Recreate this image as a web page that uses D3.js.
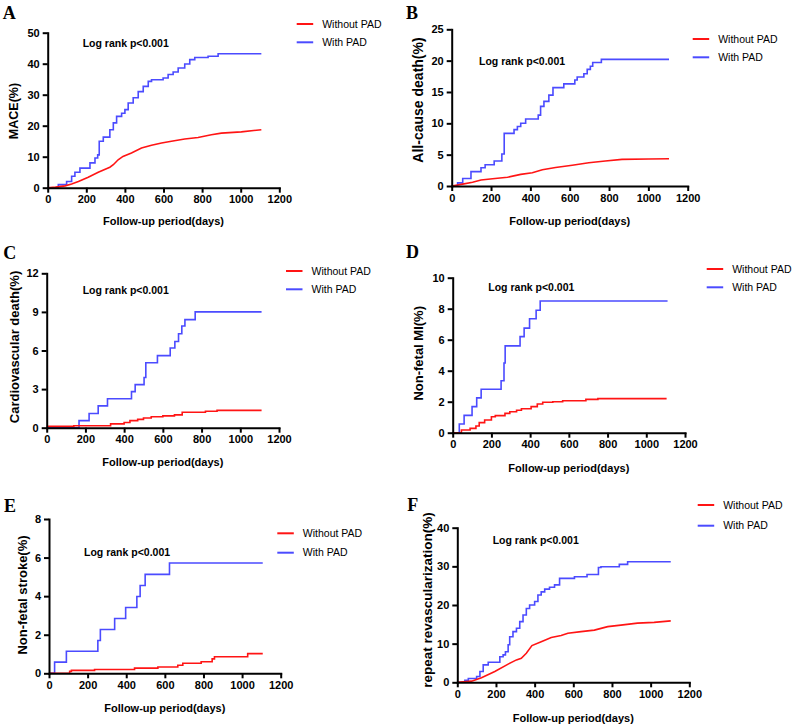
<!DOCTYPE html>
<html>
<head>
<meta charset="utf-8">
<script src="https://cdn.jsdelivr.net/npm/d3@7"></script>
<style>
body { margin: 0; background: #fff; }
svg { display: block; font-family: "Liberation Sans", Arial, sans-serif; }
</style>
</head>
<body>
<div id="chart"></div>
<script>
// Data (days, cumulative %)
var xTicks = [0, 200, 400, 600, 800, 1000, 1200];
var seriesNames = ['Without PAD', 'With PAD'];
var pLabel = 'Log rank p<0.001';
var xTitle = 'Follow-up period(days)';

var mace_without = [[0,0],[40,0.2],[90,0.6],[124,1.2],[159,2],[210,3.4],[262,5],[322,6.6],[340,7.4],[365,9],[390,10.1],[434,11.2],[486,12.8],[538,13.7],[590,14.4],[641,15],[710,15.7],[779,16.2],[848,17.1],[900,17.6],[1003,18],[1107,18.7]];
var mace_with = [[0,0],[55,1],[98,2],[124,3.7],[141,5],[167,6.3],[219,8],[245,9.6],[259,10.6],[267,15],[288,16.3],[322,18.7],[340,20.9],[357,23],[383,24],[400,25.2],[417,27.3],[443,29],[469,31],[495,32.7],[521,34.3],[538,34.8],[598,35.4],[624,36.5],[650,37.3],[676,38.6],[710,39.9],[736,41.3],[762,42],[831,42.4],[883,43.2],[1107,43.2]];

var death_without = [[0,0],[56,0.3],[106,0.6],[149,0.95],[208,1.16],[284,1.4],[351,1.85],[410,2.1],[461,2.6],[528,2.95],[613,3.3],[697,3.7],[781,4.0],[866,4.25],[1001,4.3],[1105,4.35]];
var death_with = [[0,0],[30,0.5],[56,1.2],[98,2.3],[149,2.9],[170,3.4],[216,4],[255,5.1],[267,8.4],[317,9],[334,9.5],[351,10],[376,10.7],[440,11.3],[452,12.7],[469,13.5],[494,14.5],[515,15.7],[570,16.3],[626,16.9],[638,17.4],[672,17.9],[689,18.6],[705,19.1],[717,19.7],[761,20.2],[1105,20.2]];

var cv_without = [[0,0.1],[140,0.15],[330,0.3],[400,0.4],[430,0.55],[470,0.65],[500,0.75],[540,0.85],[600,0.92],[660,1.0],[700,1.2],[820,1.28],[880,1.35],[1110,1.35]];
var cv_with = [[0,0],[167,0.55],[219,1.1],[266,1.7],[314,2.25],[438,2.8],[457,3.35],[503,3.9],[512,5.05],[572,5.6],[638,6.2],[662,6.7],[681,7.3],[698,7.9],[714,8.4],[767,9.0],[1110,9.0]];

var mi_without = [[0,0],[45,0.17],[90,0.28],[120,0.43],[137,0.65],[165,0.82],[200,1.03],[220,1.1],[270,1.25],[295,1.35],[330,1.45],[355,1.55],[405,1.68],[437,1.85],[465,1.96],[517,2.0],[568,2.06],[688,2.15],[750,2.2],[1105,2.2]];
var mi_with = [[0,0],[34,0.56],[59,1.12],[100,1.68],[124,2.25],[147,2.8],[250,3.35],[265,4.5],[271,5.6],[348,6.2],[369,6.75],[397,7.35],[431,7.9],[452,8.5],[1110,8.5]];

var stroke_without = [[0,0],[107,0.1],[116,0.15],[236,0.2],[443,0.27],[564,0.33],[667,0.42],[693,0.52],[788,0.6],[845,0.75],[857,0.86],[1029,1.02],[1107,1.02]];
var stroke_with = [[0,0],[29,0.58],[90,1.14],[253,1.7],[266,2.27],[340,2.84],[397,3.41],[455,3.98],[472,4.55],[498,5.13],[624,5.72],[1107,5.72]];

var revasc_without = [[0,0],[74,0.3],[125,1.2],[194,2.8],[263,4.7],[306,5.8],[331,6.2],[357,7.5],[386,9.5],[434,10.5],[486,11.6],[537,12.1],[572,12.7],[640,13.1],[709,13.5],[778,14.4],[846,14.8],[932,15.3],[1018,15.5],[1104,15.9]];
var revasc_with = [[0,0],[39,0.5],[57,1],[100,1.5],[117,2.8],[134,4.5],[160,5.2],[220,6.6],[237,7.1],[249,7.9],[263,9.7],[271,11.8],[288,13.1],[306,14],[323,15.7],[340,17.4],[357,19.1],[374,20],[400,20.9],[417,22.6],[434,23.4],[452,24.1],[477,24.6],[503,25.2],[529,26.9],[606,27.3],[671,27.9],[730,29.7],[743,29.9],[838,30.5],[881,31.2],[1104,31.2]];

var yTicksA = [0, 10, 20, 30, 40, 50];
var yTicksB = [0, 5, 10, 15, 20, 25];
var yTicksC = [0, 3, 6, 9, 12];
var yTicksD = [0, 2, 4, 6, 8, 10];
var yTicksE = [0, 2, 4, 6, 8];
var yTicksF = [0, 10, 20, 30, 40];

var colors = ['#ff1414', '#4b4bff'];

// layout of each panel (pixel positions)
var panels = [
  {letter:'A', yTitle:'MACE(%)', yTicks:yTicksA, data:[mace_without, mace_with], smooth:true,
   x0:47.7, x1:279.3, yTop:32.7, yBot:187.7, letterX:2.7, letterY:19.3,
   ytX:14, ytY:111, ytSize:12.5, xtY:221, pX:82.7, pY:43.3, legX:296.7, legY:24, legGap:18.3},
  {letter:'B', yTitle:'All-cause death(%)', yTicks:yTicksB, data:[death_without, death_with], smooth:true,
   x0:451.7, x1:687.7, yTop:29.3, yBot:186, letterX:406, letterY:19.3,
   ytX:418, ytY:100, ytSize:14, xtY:221, pX:479, pY:61, legX:692.7, legY:39, legGap:18.3},
  {letter:'C', yTitle:'Cardiovascular death(%)', yTicks:yTicksC, data:[cv_without, cv_with], smooth:false,
   x0:46.7, x1:279, yTop:273.3, yBot:427.7, letterX:3.3, letterY:259,
   ytX:14, ytY:347, ytSize:13, xtY:462, pX:82.7, pY:290, legX:286, legY:271, legGap:18.3},
  {letter:'D', yTitle:'Non-fetal MI(%)', yTicks:yTicksD, data:[mi_without, mi_with], smooth:false,
   x0:452.7, x1:685, yTop:277.7, yBot:432.7, letterX:406, letterY:258.3,
   ytX:418.3, ytY:353.3, ytSize:13, xtY:467.7, pX:488.3, pY:287.7, legX:706.7, legY:269, legGap:18.3},
  {letter:'E', yTitle:'Non-fetal stroke(%)', yTicks:yTicksE, data:[stroke_without, stroke_with], smooth:false,
   x0:49, x1:280.7, yTop:519, yBot:673.3, letterX:4, letterY:511.7,
   ytX:22.8, ytY:595, ytSize:13, xtY:708, pX:84, pY:552.3, legX:277.3, legY:533.3, legGap:19.4},
  {letter:'F', yTitle:'repeat revascularization(%)', yTicks:yTicksF, data:[revasc_without, revasc_with], smooth:true,
   x0:457.3, x1:689.3, yTop:527.7, yBot:682.3, letterX:407.3, letterY:511,
   ytX:427.7, ytY:600, ytSize:13.5, xtY:717.7, pX:492.7, pY:540, legX:697.7, legY:505, legGap:20.7}
];

var svg = d3.select('#chart')
  .append('svg')
  .attr('width', 795)
  .attr('height', 725);

panels.forEach(function(p) {
  var x = d3.scaleLinear().domain([0, 1200]).range([p.x0, p.x1]);
  var y = d3.scaleLinear().domain([0, d3.max(p.yTicks)]).range([p.yBot, p.yTop]);
  var g = svg.append('g');

  // curves: blue first, red on top
  [1, 0].forEach(function(i) {
    var curve = (i === 0 && p.smooth) ? d3.curveLinear : d3.curveStepAfter;
    var line = d3.line()
      .x(function(d) { return x(d[0]); })
      .y(function(d) { return y(d[1]); })
      .curve(curve);
    g.append('path')
      .datum(p.data[i])
      .attr('d', line)
      .attr('fill', 'none')
      .attr('stroke', colors[i])
      .attr('stroke-width', 1.6);
  });

  var xAxis = g.append('g')
    .attr('transform', 'translate(0,' + p.yBot + ')')
    .call(d3.axisBottom(x).tickValues(xTicks).tickFormat(d3.format('d'))
      .tickSize(5).tickSizeOuter(0).tickPadding(3));
  var yAxis = g.append('g')
    .attr('transform', 'translate(' + p.x0 + ',0)')
    .call(d3.axisLeft(y).tickValues(p.yTicks).tickFormat(d3.format('d'))
      .tickSize(5).tickSizeOuter(0).tickPadding(3));

  [xAxis, yAxis].forEach(function(a) {
    a.attr('font-family', null).attr('font-size', null);
    a.select('.domain').attr('stroke-width', 2).attr('stroke-linecap', 'square');
    a.selectAll('.tick line').attr('stroke-width', 2);
    a.selectAll('.tick text')
      .style('font-size', '11px')
      .style('font-weight', 'bold')
      .attr('fill', '#000');
  });

  // axis titles
  g.append('text')
    .attr('x', (p.x0 + p.x1) / 2)
    .attr('y', p.xtY)
    .attr('dy', '0.35em')
    .attr('text-anchor', 'middle')
    .style('font-size', '11px')
    .style('font-weight', 'bold')
    .text(xTitle);

  g.append('text')
    .attr('transform', 'translate(' + p.ytX + ',' + p.ytY + ') rotate(-90)')
    .attr('dy', '0.35em')
    .attr('text-anchor', 'middle')
    .style('font-size', p.ytSize + 'px')
    .style('font-weight', 'bold')
    .text(p.yTitle);

  // panel letter
  g.append('text')
    .attr('x', p.letterX)
    .attr('y', p.letterY)
    .style('font-family', '"Liberation Serif", "Times New Roman", serif')
    .style('font-size', '18px')
    .style('font-weight', 'bold')
    .text(p.letter);

  // log rank
  g.append('text')
    .attr('x', p.pX)
    .attr('y', p.pY)
    .attr('dy', '0.35em')
    .style('font-size', '10.5px')
    .style('font-weight', 'bold')
    .text(pLabel);

  // legend
  seriesNames.forEach(function(name, i) {
    var ly = p.legY + i * p.legGap;
    g.append('line')
      .attr('x1', p.legX).attr('x2', p.legX + 16.5)
      .attr('y1', ly).attr('y2', ly)
      .attr('stroke', colors[i])
      .attr('stroke-width', 2);
    g.append('text')
      .attr('x', p.legX + 25.5)
      .attr('y', ly)
      .attr('dy', '0.35em')
      .style('font-size', '10.5px')
      .text(name);
  });
});
</script>
</body>
</html>
